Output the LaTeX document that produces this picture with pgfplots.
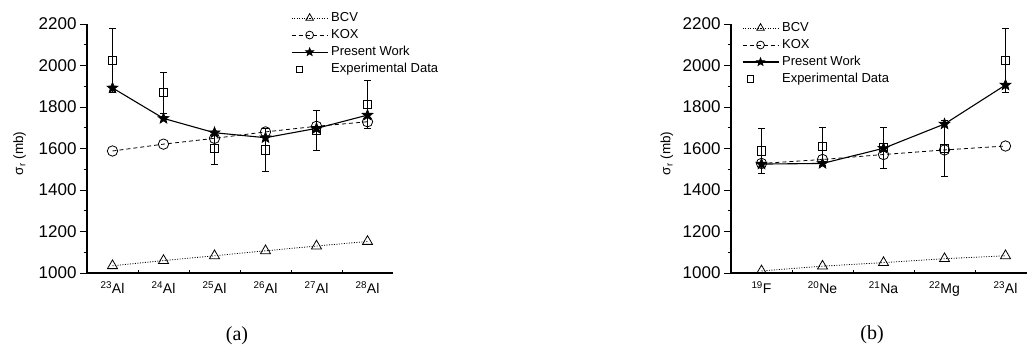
\documentclass[border=0pt]{standalone}
\usepackage{fontspec}
\setmainfont{Liberation Sans}
\newfontfamily\capfont{Liberation Serif}
\usepackage{pgfplots}
\pgfplotsset{compat=1.18}
\pgfdeclareplotmark{fstar}{%
  \pgfpathmoveto{\pgfpointpolar{90}{\pgfplotmarksize}}%
  \pgfpathlineto{\pgfpointpolar{126}{0.42\pgfplotmarksize}}%
  \pgfpathlineto{\pgfpointpolar{162}{\pgfplotmarksize}}%
  \pgfpathlineto{\pgfpointpolar{198}{0.42\pgfplotmarksize}}%
  \pgfpathlineto{\pgfpointpolar{234}{\pgfplotmarksize}}%
  \pgfpathlineto{\pgfpointpolar{270}{0.42\pgfplotmarksize}}%
  \pgfpathlineto{\pgfpointpolar{306}{\pgfplotmarksize}}%
  \pgfpathlineto{\pgfpointpolar{342}{0.42\pgfplotmarksize}}%
  \pgfpathlineto{\pgfpointpolar{18}{\pgfplotmarksize}}%
  \pgfpathlineto{\pgfpointpolar{54}{0.42\pgfplotmarksize}}%
  \pgfpathclose\pgfusepathqfillstroke}
\pgfplotsset{
  panel/.style={
    scale only axis, width=306pt, height=249pt, anchor=south west,
    axis x line*=bottom, axis y line*=left,
    ymin=1000, ymax=2200, ytick={1000,1200,...,2200}, minor y tick num=1,
    xmin=-0.5,
    tick align=outside, major tick length=7pt, minor tick length=3.5pt,
    major x tick style={draw=none},
    y tick label style={font=\fontsize{17}{17}\selectfont},
    x tick label style={font=\fontsize{14}{14}\selectfont, inner sep=1.5pt},
    /pgf/number format/assume math mode=true,
    /pgf/number format/1000 sep={},
    tick style={line width=0.9pt, black},
    axis line style={line width=1.1pt},
    clip marker paths=true,
    ylabel={σ\textsubscript{r} (mb)},
    ylabel style={font=\fontsize{13.5}{13.5}\selectfont, anchor=center},
    legend cell align=left,
    legend style={draw=none, fill=none, inner sep=0pt, outer sep=0pt, anchor=north west,
      font=\fontsize{13}{13}\selectfont,
      nodes={inner sep=0pt, text height=10pt, text depth=3pt},
      row sep=4pt,
      /tikz/every odd column/.append style={column sep=3pt}},
    legend image code/.code={\draw[mark repeat=2,mark phase=2,#1] plot coordinates {(0pt,0pt) (18pt,0pt) (36pt,0pt)};},
    legend image post style={every mark/.append style={scale=0.75}},
  },
  bcv/.style={black, line width=0.8pt, dash pattern=on 1pt off 1.5pt, mark=triangle, mark size=5.8pt, mark options={solid, fill=white, line width=0.8pt}},
  kox/.style={black, line width=0.8pt, dash pattern=on 4pt off 3pt, mark=o, mark size=5.2pt, mark options={solid, fill=white, line width=0.8pt}},
  pw/.style={black, line width=1.1pt, solid, mark=fstar, mark size=5.8pt, mark options={solid, fill=black, line width=0.6pt}},
  expd/.style={black, only marks, mark=square, mark size=4.2pt, mark options={solid, fill=white, line width=0.8pt},
     error bars/y dir=both, error bars/y explicit, error bars/error mark=-,
     error bars/error bar style={line width=0.8pt},
     error bars/error mark options={rotate=90, mark size=3.5pt, line width=0.8pt}},
  expleg/.style={black, only marks, mark=square, mark size=4.2pt, mark options={solid, fill=white, line width=0.8pt},
     legend image code/.code={\draw[mark repeat=2,mark phase=2,##1] plot coordinates {(0pt,0pt) (8pt,0pt) (16pt,0pt)};}},
}
\begin{document}
\begin{tikzpicture}[x=1pt,y=1pt]
\begin{axis}[panel, at={(87pt,76pt)}, xmax=5.5,
  xtick={0,...,5},
  xticklabels={\textsuperscript{23}Al,\textsuperscript{24}Al,\textsuperscript{25}Al,\textsuperscript{26}Al,\textsuperscript{27}Al,\textsuperscript{28}Al},
  extra x ticks={0.5,1.5,2.5,3.5,4.5}, extra x tick labels={},
  extra x tick style={tick align=inside, major tick length=3pt, major x tick style={draw, line width=0.9pt}},
  ylabel style={at={(axis description cs:-0.22,0.48)}},
  legend style={at={(axis description cs:0.667,1.05)}}]
\addplot[expd, forget plot] coordinates {(0,2026) +- (0,155) (1,1869) +- (0,98) (2,1601) +- (0,78) (3,1593) +- (0,105) (4,1686) +- (0,97) (5,1812) +- (0,115)};
\addplot[bcv] coordinates {(0,1035) (1,1060) (2,1083) (3,1107) (4,1130) (5,1152)};
\addlegendentry{BCV}
\addplot[kox] coordinates {(0,1588) (1,1621) (2,1649) (3,1680) (4,1707) (5,1729)};
\addlegendentry{KOX}
\addplot[pw] coordinates {(0,1892) (1,1745) (2,1676) (3,1652) (4,1697) (5,1761)};
\addlegendentry{Present Work}
\addlegendimage{expleg}
\addlegendentry{Experimental Data}
\end{axis}
\begin{axis}[panel, at={(731pt,76pt)}, width=305pt, xmax=4.5,
  xtick={0,...,4},
  xticklabels={\textsuperscript{19}F,\textsuperscript{20}Ne,\textsuperscript{21}Na,\textsuperscript{22}Mg,\textsuperscript{23}Al},
  extra x ticks={0.5,1.5,2.5,3.5}, extra x tick labels={},
  extra x tick style={tick align=inside, major tick length=3pt, major x tick style={draw, line width=0.9pt}},
  ylabel style={at={(axis description cs:-0.21,0.48)}},
  legend style={at={(axis description cs:0.036,1.01)}}]
\addplot[expd, forget plot] coordinates {(0,1589) +- (0,107) (1,1609) +- (0,91) (2,1604) +- (0,100) (3,1600) +- (0,135) (4,2026) +- (0,155)};
\addplot[bcv] coordinates {(0,1010) (1,1033) (2,1050) (3,1069) (4,1083)};
\addlegendentry{BCV}
\addplot[kox] coordinates {(0,1528) (1,1547) (2,1571) (3,1593) (4,1612)};
\addlegendentry{KOX}
\addplot[pw] coordinates {(0,1525) (1,1528) (2,1601) (3,1718) (4,1906)};
\addlegendentry{Present Work}
\addlegendimage{expleg}
\addlegendentry{Experimental Data}
\end{axis}
\node[font=\capfont\fontsize{20}{20}\selectfont] at (237pt,13pt) {(a)};
\node[font=\capfont\fontsize{20}{20}\selectfont] at (872pt,14pt) {(b)};
\pgfresetboundingbox
\useasboundingbox (0,0) rectangle (1027pt,349pt);
\end{tikzpicture}
\end{document}
